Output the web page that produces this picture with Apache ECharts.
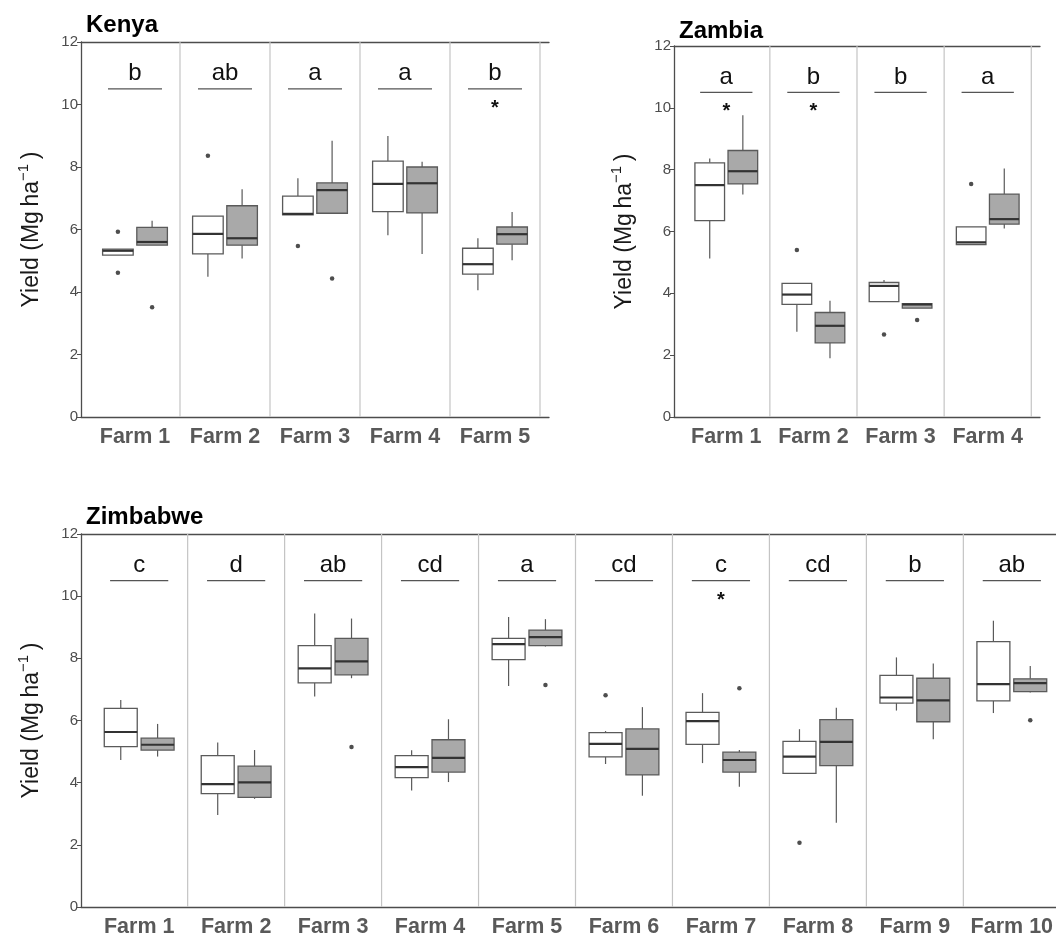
<!DOCTYPE html>
<html><head><meta charset="utf-8">
<script src="https://cdn.jsdelivr.net/npm/echarts@6/dist/echarts.min.js"></script>
<style>html,body{margin:0;padding:0;background:#fff}#c{width:1056px;height:933px}</style>
</head><body><div id="c"></div>
<script>
// ---------- DATA ----------
// box stats: [lowWhisker, Q1, median, Q3, highWhisker]
const kenyaFarms = ['Farm 1','Farm 2','Farm 3','Farm 4','Farm 5'];
const kenyaLetters = ['b','ab','a','a','b'];
const kenyaStars = [5];
const kenyaWhite = [
  [5.18,5.18,5.32,5.37,5.37],
  [4.49,5.22,5.86,6.43,6.43],
  [6.47,6.47,6.50,7.07,7.64],
  [5.82,6.57,7.46,8.19,8.99],
  [4.06,4.57,4.89,5.40,5.72]
];
const kenyaGrey = [
  [5.50,5.50,5.60,6.07,6.28],
  [5.07,5.50,5.72,6.76,7.29],
  [6.52,6.52,7.26,7.49,8.84],
  [5.22,6.53,7.48,8.00,8.17],
  [5.02,5.53,5.85,6.08,6.56]
];
const kenyaWhiteOut = [[1,5.93],[1,4.62],[2,8.36],[3,5.47]];
const kenyaGreyOut = [[1,3.51],[3,4.43]];

const zambiaFarms = ['Farm 1','Farm 2','Farm 3','Farm 4'];
const zambiaLetters = ['a','b','b','a'];
const zambiaStars = [1,2];
const zambiaWhite = [
  [5.13,6.35,7.50,8.22,8.36],
  [2.76,3.64,3.96,4.32,4.32],
  [3.73,3.73,4.24,4.35,4.43],
  [5.58,5.58,5.65,6.15,6.15]
];
const zambiaGrey = [
  [7.20,7.54,7.95,8.62,9.76],
  [1.90,2.40,2.95,3.38,3.76],
  [3.52,3.52,3.64,3.67,3.67],
  [6.10,6.24,6.40,7.21,8.04]
];
const zambiaWhiteOut = [[2,5.40],[3,2.67],[4,7.54]];
const zambiaGreyOut = [[3,3.14]];

const zimFarms = ['Farm 1','Farm 2','Farm 3','Farm 4','Farm 5','Farm 6','Farm 7','Farm 8','Farm 9','Farm 10'];
const zimLetters = ['c','d','ab','cd','a','cd','c','cd','b','ab'];
const zimStars = [7];
const zimWhite = [
  [4.73,5.16,5.63,6.39,6.66],
  [2.96,3.65,3.95,4.87,5.29],
  [6.77,7.21,7.68,8.41,9.44],
  [3.75,4.16,4.50,4.87,5.04],
  [7.11,7.96,8.46,8.64,9.33],
  [4.60,4.83,5.25,5.61,5.66],
  [4.63,5.23,5.98,6.26,6.88],
  [4.30,4.30,4.84,5.33,5.72],
  [6.32,6.56,6.74,7.45,8.03],
  [6.24,6.63,7.17,8.54,9.21]
];
const zimGrey = [
  [4.84,5.05,5.22,5.43,5.89],
  [3.48,3.53,4.01,4.53,5.05],
  [7.36,7.47,7.90,8.64,9.28],
  [4.02,4.34,4.80,5.38,6.04],
  [8.38,8.41,8.68,8.91,9.26],
  [3.58,4.25,5.09,5.73,6.43],
  [3.87,4.34,4.73,4.98,5.05],
  [2.71,4.55,5.31,6.03,6.41],
  [5.40,5.96,6.65,7.36,7.83],
  [6.90,6.93,7.20,7.34,7.75]
];
const zimWhiteOut = [[6,6.81],[8,2.07]];
const zimGreyOut = [[3,5.15],[5,7.14],[7,7.04],[10,6.01]];

const yTicks = [0,2,4,6,8,10,12];

// ---------- STYLE / LAYOUT ----------
const FONT = '"Liberation Sans", Arial, sans-serif';
const OFF = 0.19, BW = 0.34;
const LETTER_Y = 11.0, BAR_Y = 10.5, STAR_Y = 10.0, BAR_HALF = 0.3;

const panels = [
  {name:'Kenya', farms:kenyaFarms, letters:kenyaLetters, stars:kenyaStars, white:kenyaWhite, grey:kenyaGrey, wOut:kenyaWhiteOut, gOut:kenyaGreyOut,
   grid:{left:81, top:42, width:468, height:375}, title:{left:81, top:8}},
  {name:'Zambia', farms:zambiaFarms, letters:zambiaLetters, stars:zambiaStars, white:zambiaWhite, grey:zambiaGrey, wOut:zambiaWhiteOut, gOut:zambiaGreyOut,
   grid:{left:674, top:46, width:366, height:371}, title:{left:674, top:14}},
  {name:'Zimbabwe', farms:zimFarms, letters:zimLetters, stars:zimStars, white:zimWhite, grey:zimGrey, wOut:zimWhiteOut, gOut:zimGreyOut,
   grid:{left:81, top:534, width:989, height:373}, title:{left:81, top:500}}
];

const grids = [], xAxes = [], yAxes = [], series = [], titles = [];

panels.forEach((p, gi) => {
  const n = p.farms.length;
  grids.push(Object.assign({outerBoundsMode:'none', containLabel:false}, p.grid));
  titles.push({text:p.name, left:p.title.left, top:p.title.top,
    textStyle:{fontFamily:FONT, fontWeight:'bold', fontSize:24, color:'#000'}});
  // bottom x axis with farm labels
  xAxes.push({type:'value', gridIndex:gi, min:0.4, max:n+0.6, position:'bottom',
    axisLine:{show:true, onZero:false, lineStyle:{color:'#4d4d4d', width:1.3}},
    axisTick:{show:false},
    splitLine:{show:false},
    axisLabel:{show:true, customValues:p.farms.map((_,i)=>i+1),
      formatter:v=>p.farms[Math.round(v)-1] || '', margin:9,
      fontFamily:FONT, fontWeight:'bold', fontSize:21.5, color:'#595959'}});
  // top border
  xAxes.push({type:'value', gridIndex:gi, min:0.4, max:n+0.6, position:'top',
    axisLine:{show:true, onZero:false, lineStyle:{color:'#4d4d4d', width:1.3}},
    axisTick:{show:false}, axisLabel:{show:false}, splitLine:{show:false}});
  yAxes.push({type:'value', gridIndex:gi, min:0, max:12, interval:2,
    axisLine:{show:true, lineStyle:{color:'#4d4d4d', width:1.3}},
    axisTick:{show:true, length:4, lineStyle:{color:'#4d4d4d'}},
    splitLine:{show:false},
    axisLabel:{margin:3, fontFamily:FONT, fontSize:15, color:'#4d4d4d'},
    name:'{a|Yield (Mg\u2009ha}{s|\u22121}{a|\u2009)}', nameLocation:'middle', nameGap:38, nameRotate:90,
    nameMoveOverlap:false,
    nameTextStyle:{fontFamily:FONT, color:'#1a1a1a',
      rich:{a:{fontFamily:FONT, fontSize:23, color:'#1a1a1a', verticalAlign:'bottom'},
            s:{fontFamily:FONT, fontSize:15, color:'#1a1a1a', verticalAlign:'bottom', padding:[0,0,12,0]}}}});
  const xi = gi*2, yi = gi;

  // separators between farms
  series.push({type:'custom', xAxisIndex:xi, yAxisIndex:yi, z:1, silent:true,
    data:p.farms.map((_,i)=>[i+1.5]),
    renderItem:(params, api)=>{
      const a = api.coord([api.value(0), 0]);
      const b = api.coord([api.value(0), 12]);
      return {type:'line', shape:{x1:a[0], y1:a[1], x2:b[0], y2:b[1]},
        style:{stroke:'#c4c4c4', lineWidth:1.2}};
    }});

  // boxes
  [[p.white, -OFF, '#ffffff'], [p.grey, OFF, '#a9a9a9']].forEach(([stats, off, fill]) => {
    series.push({type:'custom', xAxisIndex:xi, yAxisIndex:yi, z:3, silent:true,
      data:stats.map((s,i)=>[i+1+off].concat(s)),
      renderItem:(params, api)=>{
        const x = api.value(0);
        const lo = api.coord([x, api.value(1)]), q1 = api.coord([x, api.value(2)]),
              md = api.coord([x, api.value(3)]), q3 = api.coord([x, api.value(4)]),
              hi = api.coord([x, api.value(5)]);
        const w = api.size([BW, 0])[0];
        const cx = lo[0];
        const stroke = '#5a5a5a';
        return {type:'group', children:[
          {type:'line', shape:{x1:cx, y1:hi[1], x2:cx, y2:q3[1]}, style:{stroke, lineWidth:1.2}},
          {type:'line', shape:{x1:cx, y1:q1[1], x2:cx, y2:lo[1]}, style:{stroke, lineWidth:1.2}},
          {type:'rect', shape:{x:cx-w/2, y:q3[1], width:w, height:q1[1]-q3[1]},
            style:{fill, stroke, lineWidth:1.3}},
          {type:'line', shape:{x1:cx-w/2, y1:md[1], x2:cx+w/2, y2:md[1]}, style:{stroke:'#333', lineWidth:2.2}}
        ]};
      }});
  });

  // outliers
  [[p.wOut, -OFF], [p.gOut, OFF]].forEach(([pts, off]) => {
    series.push({type:'scatter', xAxisIndex:xi, yAxisIndex:yi, z:4, silent:true,
      symbol:'circle', symbolSize:4.5, itemStyle:{color:'#222'},
      data:pts.map(d=>[d[0]+off, d[1]])});
  });

  // letters, bars, asterisks
  series.push({type:'custom', xAxisIndex:xi, yAxisIndex:yi, z:5, silent:true,
    data:p.letters.map((l,i)=>[i+1]),
    renderItem:(params, api)=>{
      const x = api.value(0);
      const i = params.dataIndex;
      const t = api.coord([x, LETTER_Y]);
      const b1 = api.coord([x-BAR_HALF, BAR_Y]), b2 = api.coord([x+BAR_HALF, BAR_Y]);
      const ch = [
        {type:'text', style:{x:t[0], y:t[1], text:p.letters[i], fill:'#111',
          fontFamily:FONT, fontSize:24, align:'center', verticalAlign:'middle'}},
        {type:'line', shape:{x1:b1[0], y1:b1[1], x2:b2[0], y2:b2[1]}, style:{stroke:'#555', lineWidth:1.4}}
      ];
      if (p.stars.indexOf(i+1) >= 0) {
        const s = api.coord([x, STAR_Y]);
        ch.push({type:'text', style:{x:s[0], y:s[1]+4, text:'*', fill:'#111',
          fontFamily:FONT, fontSize:20, fontWeight:'bold', align:'center', verticalAlign:'middle'}});
      }
      return {type:'group', children:ch};
    }});
});

const chart = echarts.init(document.getElementById('c'), null, {renderer:'canvas'});
chart.setOption({animation:false, backgroundColor:'#fff', title:titles, grid:grids, xAxis:xAxes, yAxis:yAxes, series});
</script></body></html>
